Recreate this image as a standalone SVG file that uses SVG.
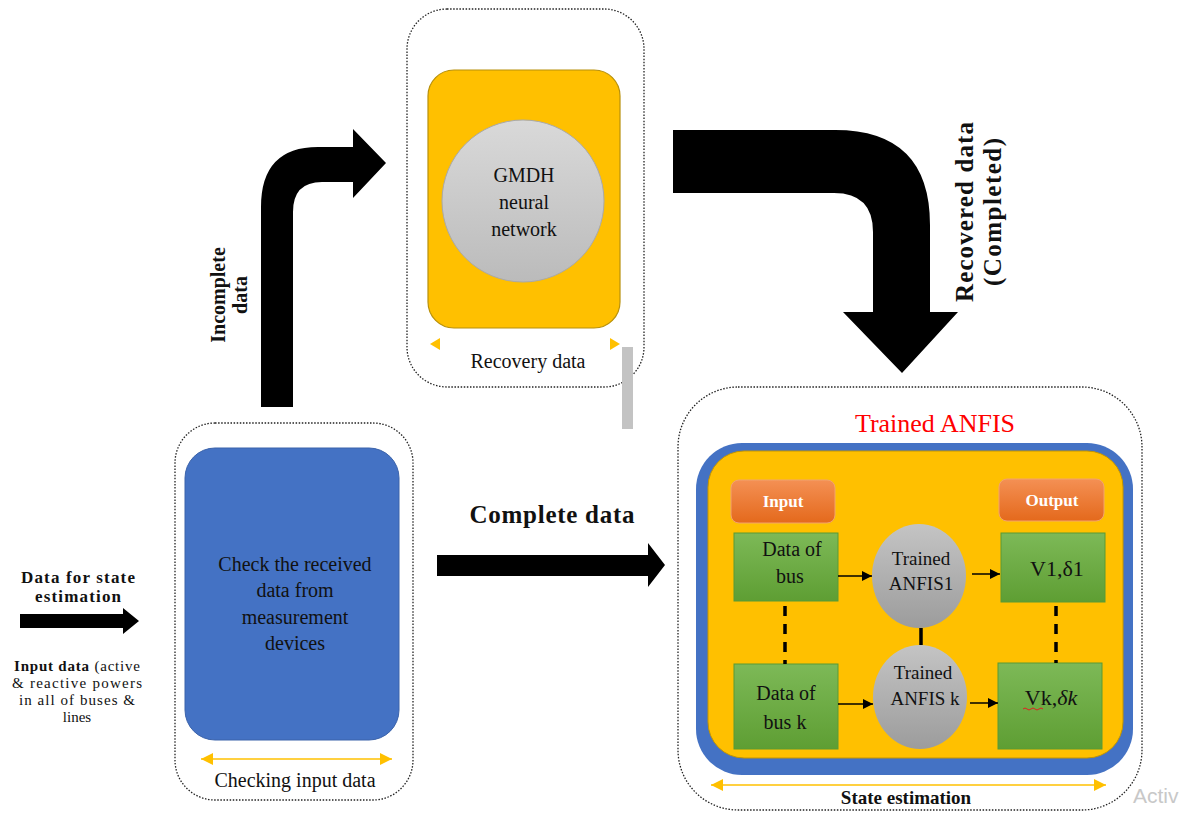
<svg xmlns="http://www.w3.org/2000/svg" width="1187" height="818" viewBox="0 0 1187 818">
<defs>
<linearGradient id="gGray" x1="0" y1="0" x2="0" y2="1"><stop offset="0" stop-color="#D9D9D9"/><stop offset="1" stop-color="#BBBBBB"/></linearGradient>
<linearGradient id="gGray2" x1="0" y1="0" x2="0" y2="1"><stop offset="0" stop-color="#C4C4C4"/><stop offset="1" stop-color="#9C9C9C"/></linearGradient>
<linearGradient id="gGreen" x1="0" y1="0" x2="0" y2="1"><stop offset="0" stop-color="#7DB957"/><stop offset="1" stop-color="#5E9E33"/></linearGradient>
<linearGradient id="gOrange" x1="0" y1="0" x2="0" y2="1"><stop offset="0" stop-color="#F49054"/><stop offset="1" stop-color="#E4691C"/></linearGradient>
<marker id="ah" viewBox="0 0 10 10" refX="10" refY="5" markerWidth="10" markerHeight="10" markerUnits="userSpaceOnUse" orient="auto"><path d="M0,0 L10,5 L0,10 Z" fill="#000"/></marker>
<marker id="yh" viewBox="0 0 10 10" refX="10" refY="5" markerWidth="12" markerHeight="12" markerUnits="userSpaceOnUse" orient="auto-start-reverse"><path d="M0,0 L10,5 L0,10 Z" fill="#FFC000"/></marker>
</defs>
<style>
.dot{fill:none;stroke:#222;stroke-width:1.3;stroke-dasharray:1.5 1.6}
.serif{font-family:"Liberation Serif","Times New Roman",serif;fill:#111}
.b{font-weight:bold}
.c{text-anchor:middle}
.green{fill:url(#gGreen);stroke:#5A9A35;stroke-width:1}
.orange{fill:url(#gOrange);stroke:#F2A36E;stroke-width:1}
.sm{stroke:#000;stroke-width:1.5;fill:none;marker-end:url(#ah)}
.dash{stroke:#000;stroke-width:3.5;stroke-dasharray:10 8;fill:none}
.yl{stroke:#FFC000;stroke-width:1.5;fill:none;marker-start:url(#yh);marker-end:url(#yh)}
</style>
<rect width="1187" height="818" fill="#fff"/>

<g id="recovery">
<rect class="dot" x="407" y="9" width="237" height="378" rx="40"/>
<rect x="428" y="70" width="192" height="258" rx="26" fill="#FFC000" stroke="#B8900A" stroke-width="1.2"/>
<circle cx="523" cy="201" r="81" fill="url(#gGray)" stroke="#A9A9A9" stroke-width="1"/>
<text class="serif c" font-size="20" x="524" y="182">GMDH</text>
<text class="serif c" font-size="20" x="524" y="209">neural</text>
<text class="serif c" font-size="20" x="524" y="236">network</text>
<path d="M440,338 L430,344 L440,350 Z" fill="#FFC000"/>
<path d="M610,338 L620,344 L610,350 Z" fill="#FFC000"/>
<text class="serif c" font-size="20" x="528" y="368">Recovery data</text>
</g>
<rect x="622" y="347" width="11" height="82" fill="#C3C3C3"/>

<g id="checking">
<rect class="dot" x="175" y="423" width="238" height="377" rx="40"/>
<rect x="185" y="448" width="214" height="292" rx="30" fill="#4472C4" stroke="#3A62AA" stroke-width="1"/>
<text class="serif c" font-size="20" x="295" y="571">Check the received</text>
<text class="serif c" font-size="20" x="295" y="597">data from</text>
<text class="serif c" font-size="20" x="295" y="624">measurement</text>
<text class="serif c" font-size="20" x="295" y="650">devices</text>
<line class="yl" x1="201" y1="759" x2="392" y2="759"/>
<text class="serif c" font-size="20" x="295" y="787">Checking input data</text>
</g>

<g id="anfis">
<rect class="dot" x="678" y="387" width="464" height="423" rx="60"/>
<text class="c" font-family="Liberation Serif, serif" font-size="26" fill="#FF0000" x="935" y="432">Trained ANFIS</text>
<rect x="696" y="443" width="437" height="332" rx="46" fill="#4472C4"/>
<rect x="708" y="451" width="415" height="307" rx="36" fill="#FFC000" stroke="#C49500" stroke-width="1"/>
<line class="yl" x1="711" y1="785" x2="1106" y2="785"/>
<text class="serif c b" font-size="19" x="906" y="804">State estimation</text>
</g>

<g id="input-label">
<rect class="orange" x="731" y="480" width="104" height="43" rx="8"/>
<text class="c b" font-family="Liberation Serif, serif" font-size="17" fill="#fff" x="783" y="507">Input</text>
</g>
<g id="output-label">
<rect class="orange" x="999" y="479" width="105" height="42" rx="8"/>
<text class="c b" font-family="Liberation Serif, serif" font-size="17" fill="#fff" x="1052" y="506">Output</text>
</g>
<g id="data-bus">
<rect class="green" x="734" y="533" width="104" height="68"/>
<text class="serif c" font-size="20" x="792" y="556">Data of</text>
<text class="serif c" font-size="20" x="790" y="583">bus</text>
</g>
<g id="data-bus-k">
<rect class="green" x="734" y="664" width="104" height="85"/>
<text class="serif c" font-size="20" x="786" y="700">Data of</text>
<text class="serif c" font-size="20" x="785" y="729">bus k</text>
</g>
<g id="anfis1">
<ellipse cx="919" cy="576" rx="47" ry="52" fill="url(#gGray2)"/>
<text class="serif c" font-size="19" x="921" y="565">Trained</text>
<text class="serif c" font-size="19" x="921" y="590">ANFIS1</text>
</g>
<g id="anfisk">
<ellipse cx="920" cy="697" rx="47" ry="52" fill="url(#gGray2)"/>
<text class="serif c" font-size="19" x="923" y="679">Trained</text>
<text class="serif c" font-size="19" x="925" y="705">ANFIS k</text>
</g>
<g id="out-1">
<rect class="green" x="1001" y="533" width="104" height="69"/>
<text class="serif c" font-size="22" x="1057" y="576">V1,δ1</text>
</g>
<g id="out-k">
<rect class="green" x="998" y="663" width="104" height="86"/>
<text class="serif c" font-size="22" x="1051" y="705">Vk,<tspan font-style="italic">δk</tspan></text>
<path d="M1023,709 q2,-2 4,0 t4,0 t4,0 t4,0 t4,0" fill="none" stroke="#E02020" stroke-width="1"/>
</g>

<g id="left-input">
<text class="serif c b" font-size="17" x="78" y="583" textLength="114">Data for state</text>
<text class="serif c b" font-size="17" x="78" y="602" textLength="86">estimation</text>
<text class="serif c" font-size="15" x="77" y="671" textLength="126"><tspan font-weight="bold">Input data </tspan>(active</text>
<text class="serif c" font-size="15" x="77" y="688" textLength="130">&amp; reactive powers</text>
<text class="serif c" font-size="15" x="77" y="705" textLength="116">in all of buses &amp;</text>
<text class="serif c" font-size="15" x="77" y="722">lines</text>
</g>

<g id="connectors">
<path d="M20,614 L123,614 L123,608 L139,621 L123,634 L123,628 L20,628 Z" fill="#000"/>
<path d="M261,407 L261,207 Q261,147 318,147 L353,147 L353,129 L386,163 L353,198 L353,182 L322,182 Q293,182 293,212 L293,407 Z" fill="#000"/>
<path d="M673,130 L835,130 Q930,130 930,225 L930,312 L958,312 L902,373 L843,312 L873,312 L873,232 Q873,193 834,193 L673,193 Z" fill="#000"/>
<path d="M437,555 L648,555 L648,543 L665,565 L648,587 L648,576 L437,576 Z" fill="#000"/>
<line class="sm" x1="838" y1="576" x2="872" y2="576"/>
<line class="sm" x1="972" y1="574" x2="1000" y2="574"/>
<line class="sm" x1="838" y1="704" x2="873" y2="704"/>
<line class="sm" x1="970" y1="703" x2="998" y2="703"/>
<line class="dash" x1="785" y1="606" x2="785" y2="664"/>
<line class="dash" x1="1056" y1="606" x2="1056" y2="663"/>
<line stroke="#000" stroke-width="3.5" x1="921" y1="628" x2="921" y2="645"/>
</g>

<g id="labels">
<text class="serif b" font-size="20" transform="translate(225,295) rotate(-90)" text-anchor="middle">Incomplete</text>
<text class="serif b" font-size="20" transform="translate(247,295) rotate(-90)" text-anchor="middle">data</text>
<text class="serif b" font-size="25" transform="translate(973,212) rotate(-90)" text-anchor="middle" textLength="180">Recovered data</text>
<text class="serif b" font-size="25" transform="translate(1001,212) rotate(-90)" text-anchor="middle" textLength="148">(Completed)</text>
<text class="serif c b" font-size="25" x="552" y="523" textLength="165">Complete data</text>
</g>
<text font-family="Liberation Sans, sans-serif" font-size="21" fill="#C8C8C8" x="1133" y="803">Activ</text>
</svg>
